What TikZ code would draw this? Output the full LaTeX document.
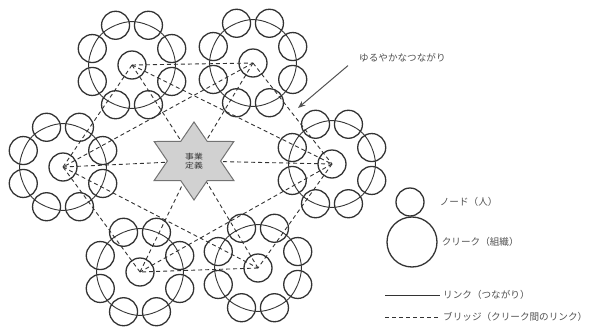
\documentclass[tikz,border=0pt]{standalone}
\usepackage{fontspec}
\newfontfamily\jpfont{Noto Sans CJK JP}
\usepackage{tikz}
\usetikzlibrary{shapes.geometric, arrows.meta, positioning, calc}

\definecolor{linegray}{gray}{0.2}
\definecolor{textgray}{gray}{0.32}
\definecolor{stargray}{gray}{0.82}
\definecolor{stardraw}{gray}{0.45}

\tikzset{
	person/.style={circle, draw=linegray, line width=1.3pt, minimum size=28pt, inner sep=0pt},
	clique/.style={circle, draw=linegray, line width=1.3pt, minimum size=50pt, inner sep=0pt},
	link/.style={draw=linegray, line width=0.9pt},
	bridge/.style={draw=linegray, line width=0.9pt, dash pattern=on 4pt off 3pt},
	note/.style={font=\jpfont\fontsize{9.6}{11}\selectfont, text=textgray, inner sep=1pt},
}

\begin{document}
\begin{tikzpicture}[x=1pt, y=-1pt, >=Stealth]
			\useasboundingbox (0,0) rectangle (598,327);
			
			% Draw the cliques (ring of people around one person)
			\foreach \cl/\cx/\cy in {TL/132/65, TR/253/63, L/63/167, R/332/164, BL/140/272, BR/258/268} {
				\node[person] (\cl-c) at (\cx,\cy) {};
				\foreach \i in {1,...,8} {
					\pgfmathsetmacro\a{22.5+45*\i}
					\node[person] (\cl-\i) at ($(\cx,\cy)+(\a:43)$) {};
				}
				\foreach \i in {1,...,8} {
					\pgfmathtruncatemacro\j{mod(\i,8)+1}
					\draw[link] (\cl-\i.center) to[bend left=22.5] (\cl-\j.center);
				}
			}
			
			% Draw the business definition star
			\node[star, star points=6, star point ratio=1.73, minimum size=78pt, inner sep=0pt,
				xscale=1.18, transform shape,
				fill=stargray, draw=stardraw, line width=1pt, align=center,
				font=\jpfont\fontsize{7.5}{9}\selectfont, text=linegray] (def) at (194,161) {事業\\定義};
			
			% Draw the bridges between neighbouring cliques
			\draw[bridge] (TL-c.center) -- (TR-c.center);
			\draw[bridge] (TR-c.center) -- (R-c.center);
			\draw[bridge] (R-c.center) -- (BR-c.center);
			\draw[bridge] (BR-c.center) -- (BL-c.center);
			\draw[bridge] (BL-c.center) -- (L-c.center);
			\draw[bridge] (L-c.center) -- (TL-c.center);
			
			% Draw the crossing bridges
			\draw[bridge] (TL-c.center) -- (R-c.center);
			\draw[bridge] (TR-c.center) -- (L-c.center);
			\draw[bridge] (L-c.center) -- (BR-c.center);
			\draw[bridge] (R-c.center) -- (BL-c.center);
			
			% Draw the bridges to the star
			\foreach \cl in {TL, TR, L, R, BL, BR}
				\draw[bridge] (\cl-c.center) -- (def);
			
			% Draw the loose tie label
			\node[note, anchor=west] (loose) at (358,58) {ゆるやかなつながり};
			\coordinate (loosetip) at (298,108);
			\draw[->, textgray, line width=1pt] ([xshift=-10pt, yshift=-2pt]loose.south west) -- (loosetip);
			
			% Draw the legend
			\node[person] (lnode) at (410,202) {};
			\node[note, right=14pt of lnode] (lnodetext) {ノード（人）};
			\node[clique] (lclique) at (412,242) {};
			\node[note, right=3pt of lclique] (lcliquetext) {クリーク（組織）};
			\coordinate (llinka) at (385,295);
			\coordinate (llinkb) at (440,295);
			\draw[link] (llinka) -- (llinkb);
			\node[note, right=2pt of llinkb] (llinktext) {リンク（つながり）};
			\coordinate (lbridgea) at (385,317);
			\coordinate (lbridgeb) at (440,317);
			\draw[bridge] (lbridgea) -- (lbridgeb);
			\node[note, right=2pt of lbridgeb] (lbridgetext) {ブリッジ（クリーク間のリンク）};
			
		\end{tikzpicture}
\end{document}
